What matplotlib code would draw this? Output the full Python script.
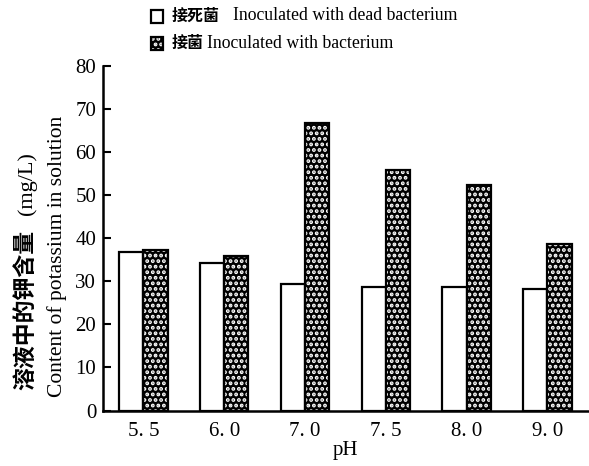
import numpy as np
import matplotlib.pyplot as plt
from matplotlib.patches import Rectangle

ph_labels = ['5. 5', '6. 0', '7. 0', '7. 5', '8. 0', '9. 0']
dead = [36.7, 34.3, 29.3, 28.7, 28.7, 28.2]
live = [37.2, 35.8, 66.6, 55.8, 52.3, 38.6]

serif = ['Liberation Serif', 'Noto Sans CJK SC']
cjk = ['Noto Sans CJK SC', 'Liberation Serif']

plt.rcParams['font.family'] = serif
plt.rcParams['hatch.linewidth'] = 1.9

fig = plt.figure(figsize=(5.89, 4.66), dpi=100)
ax = fig.add_axes([0.175, 0.119, 0.823, 0.740])

x = np.arange(len(ph_labels))
w = 0.3
ax.bar(x - w / 2, dead, w, color='white', edgecolor='black', linewidth=1.6)
# black bars with white dots, outline drawn separately
ax.bar(x + w / 2, live, w, color='black', edgecolor='white', linewidth=0, hatch='...')
ax.bar(x + w / 2, live, w, fill=False, edgecolor='black', linewidth=1.6)

ax.set_xlim(-0.5, 5.5)
ax.set_ylim(0, 80)
ax.set_yticks(range(0, 81, 10))
ax.set_xticks(x)
ax.set_xticklabels(ph_labels)
ax.tick_params(axis='y', direction='in', length=6, width=1.5, labelsize=15, pad=5)
ax.tick_params(axis='x', length=0, labelsize=15, pad=8)
ax.spines['top'].set_visible(False)
ax.spines['right'].set_visible(False)
ax.spines['left'].set_linewidth(1.8)
ax.spines['bottom'].set_linewidth(1.8)
ax.set_xlabel('pH', fontsize=15, labelpad=0)

fig.text(0.044, 0.335, '溶液中的钾含量', rotation=90, ha='center', va='center',
         fontsize=16.5, family=cjk, weight='bold')
fig.text(0.046, 0.607, '(mg/L)', rotation=90, ha='center', va='center', fontsize=16)
fig.text(0.097, 0.449, 'Content of potassium in solution', rotation=90,
         ha='center', va='center', fontsize=15.5)

# legend
fig.patches.append(Rectangle((151 / 589, 1 - 23 / 466), 12 / 589, 13 / 466,
                             transform=fig.transFigure, facecolor='white',
                             edgecolor='black', linewidth=1.6))
fig.patches.append(Rectangle((151 / 589, 1 - 50 / 466), 12 / 589, 13 / 466,
                             transform=fig.transFigure, facecolor='black',
                             edgecolor='white', linewidth=0, hatch='...'))
fig.patches.append(Rectangle((151 / 589, 1 - 50 / 466), 12 / 589, 13 / 466,
                             transform=fig.transFigure, fill=False,
                             edgecolor='black', linewidth=1.6))
fig.text(172 / 589, 1 - 16 / 466, '接死菌', fontsize=11.5, family=cjk, weight='bold', va='center')
fig.text(233 / 589, 1 - 16 / 466, 'Inoculated with dead bacterium', fontsize=12.8, va='center')
fig.text(172 / 589, 1 - 43 / 466, '接菌', fontsize=11.5, family=cjk, weight='bold', va='center')
fig.text(207 / 589, 1 - 43 / 466, 'Inoculated with bacterium', fontsize=12.8, va='center')

fig.savefig('out.png', dpi=100)
